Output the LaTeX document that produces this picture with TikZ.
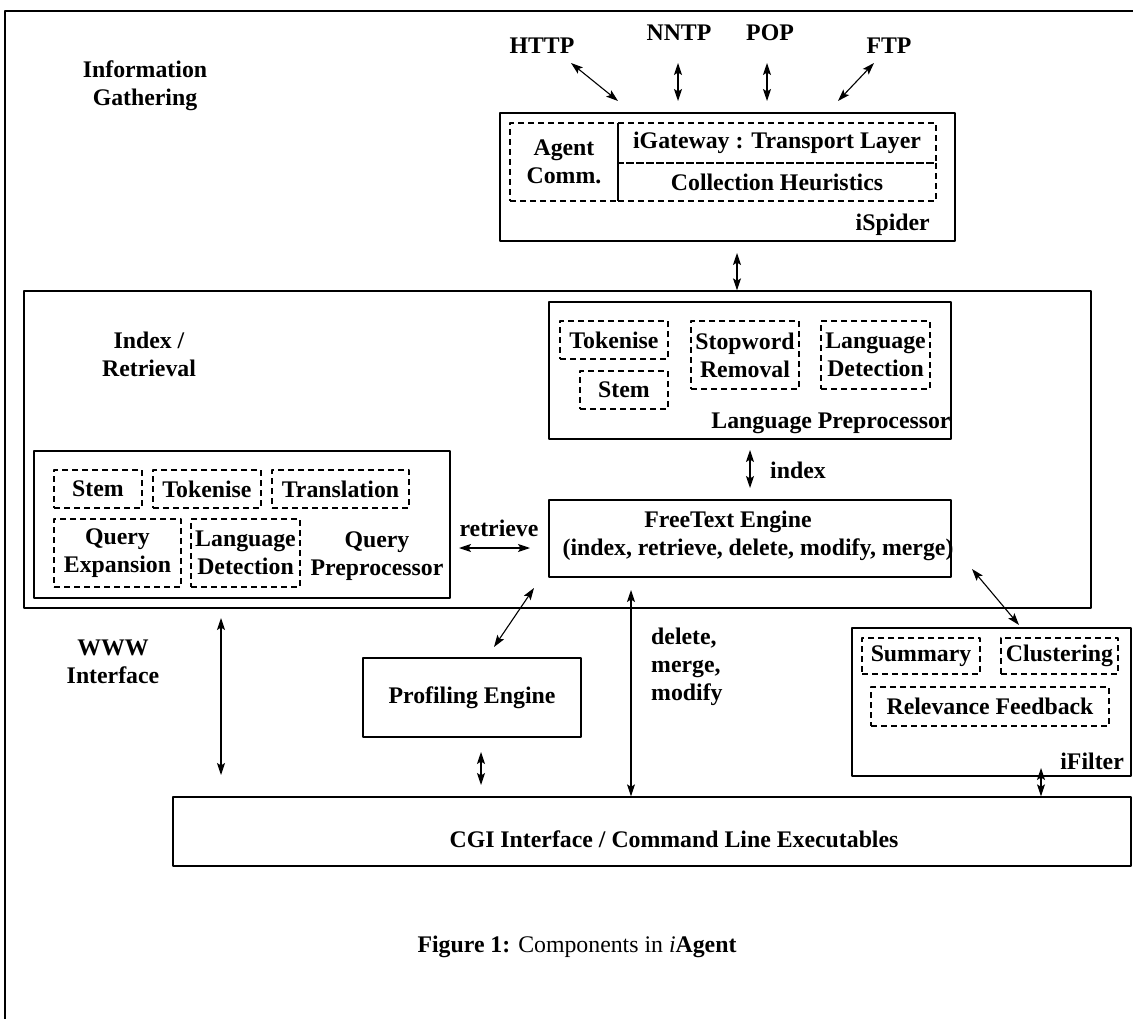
\documentclass[tikz,border=0pt]{standalone}
\usepackage{fontspec}
\setmainfont{Liberation Serif}
\usetikzlibrary{arrows.meta}

\begin{document}
\begin{tikzpicture}[line cap=round,line join=round,>={Stealth[length=12pt,width=8pt,inset=2.5pt]},x=1pt,y=-1pt,
		font=\fontsize{23.8}{28}\selectfont\bfseries,
		box/.style={draw,line width=1.3pt,inner sep=0pt},
		dbox/.style={draw,line width=1.3pt,line cap=butt,dash pattern=on 6pt off 4pt,inner sep=0pt,align=center},
		txt/.style={inner sep=0pt,align=center},
		link/.style={<->,line width=1.1pt}]
	\useasboundingbox (0,0) rectangle (1133,1019);
	\draw[line width=1.6pt] (5,1019) -- (5,11) -- (1133,11);
	% gathering
	\node[txt] (gath) at (145,86) {Information\\Gathering};
	\node[txt] (http) at (542,46) {HTTP};
	\node[txt] (nntp) at (679,33) {NNTP};
	\node[txt] (pop) at (770,33) {POP};
	\node[txt] (ftp) at (889,46) {FTP};
	\node[box,minimum width=455,minimum height=128] (spider) at (727.5,177) {};
	\node[dbox,minimum width=108,minimum height=78] (agent) at (564,162) {Agent\\Comm.};
	\node[dbox,minimum width=318,minimum height=40] (gate) at (777,143) {iGateway : Transport Layer};
	\node[dbox,minimum width=318,minimum height=38] (heur) at (777,182) {Collection Heuristics};
	\node[txt,anchor=east] (spiderlbl) at (930,225) {iSpider};
	% index / retrieval
	\node[box,minimum width=1067,minimum height=317] (index) at (557.5,449.5) {};
	\node[txt] (indexlbl) at (149,354) {Index /\\Retrieval};
	\node[box,minimum width=402,minimum height=137] (langpre) at (750,370.5) {};
	\node[dbox,minimum width=108,minimum height=38] (tokA) at (614,340) {Tokenise};
	\node[dbox,minimum width=88,minimum height=38] (stemA) at (624,390) {Stem};
	\node[dbox,minimum width=108,minimum height=68] (stop) at (745,355) {Stopword\\Removal};
	\node[dbox,minimum width=109,minimum height=68] (langA) at (875.5,355) {Language\\Detection};
	\node[txt] (langprelbl) at (831,423) {Language Preprocessor};
	\node[txt] (idxlbl) at (798,470) {index};
	\node[box,minimum width=402,minimum height=77] (free) at (750,538.5) {};
	\node[txt] (freeA) at (728,522) {FreeText Engine};
	\node[txt] (freeB) at (758,550) {(index, retrieve, delete, modify, merge)};
	\node[box,minimum width=416,minimum height=147] (qpre) at (242,524.5) {};
	\node[dbox,minimum width=88,minimum height=38] (stemB) at (98,489) {Stem};
	\node[dbox,minimum width=108,minimum height=38] (tokB) at (207,489) {Tokenise};
	\node[dbox,minimum width=137,minimum height=38] (trans) at (340.5,489) {Translation};
	\node[dbox,minimum width=127,minimum height=68] (qexp) at (117.5,553) {Query\\Expansion};
	\node[dbox,minimum width=109,minimum height=68] (langB) at (245.5,553) {Language\\Detection};
	\node[txt] (qprelbl) at (377,556) {Query\\Preprocessor};
	\node[txt] (retlbl) at (499,528) {retrieve};
	% lower part
	\node[txt] (wwwlbl) at (113,662) {WWW\\Interface};
	\node[box,minimum width=218,minimum height=79] (prof) at (472,697.5) {Profiling Engine};
	\node[txt,align=left,anchor=west] (dellbl) at (651,667) {delete,\\merge,\\modify};
	\node[box,minimum width=279,minimum height=148] (filter) at (991.5,702) {};
	\node[dbox,minimum width=118,minimum height=36] (summ) at (921,656) {Summary};
	\node[dbox,minimum width=117,minimum height=36] (clus) at (1059.5,656) {Clustering};
	\node[dbox,minimum width=238,minimum height=39] (relev) at (990,706.5) {Relevance Feedback};
	\node[txt,anchor=east] (filterlbl) at (1124,761) {iFilter};
	\node[box,minimum width=958,minimum height=69] (cgi) at (652,831.5) {};
	\node[txt] (cgilbl) at (674,839) {CGI Interface / Command Line Executables};
	\node[txt] (caption) at (577,947) {Figure 1: {\mdseries Components in \textit{i}}Agent};
	% arrow ends
	\coordinate (hA) at (571,63);   \coordinate (hB) at (618,101);
	\coordinate (nA) at (678,63);   \coordinate (nB) at (678,101);
	\coordinate (pA) at (767,63);   \coordinate (pB) at (767,101);
	\coordinate (fA) at (874,63);   \coordinate (fB) at (838,101);
	\coordinate (sA) at (737,253);
	\coordinate (iA) at (750,450);  \coordinate (iB) at (750,488);
	\coordinate (rA) at (459,548);  \coordinate (rB) at (530,548);
	\coordinate (peA) at (534,588); \coordinate (peB) at (494,647);
	\coordinate (wA) at (221,618);  \coordinate (wB) at (221,775);
	\coordinate (pcA) at (481,752); \coordinate (pcB) at (481,785);
	\coordinate (dA) at (631,590);
	\coordinate (ffA) at (972,569); \coordinate (ffB) at (1019,625);
	\coordinate (fcA) at (1041,768);
	\draw[link] (hA) -- (hB);
	\draw[link] (nA) -- (nB);
	\draw[link] (pA) -- (pB);
	\draw[link] (fA) -- (fB);
	\draw[link] (sA) -- (sA |- index.north);
	\draw[link] (iA) -- (iB);
	\draw[link] (rA) -- (rB);
	\draw[link] (peA) -- (peB);
	\draw[link] (wA) -- (wB);
	\draw[link] (pcA) -- (pcB);
	\draw[link] (dA) -- (dA |- cgi.north);
	\draw[link] (ffA) -- (ffB);
	\draw[link] (fcA) -- (fcA |- cgi.north);
\end{tikzpicture}
\end{document}
